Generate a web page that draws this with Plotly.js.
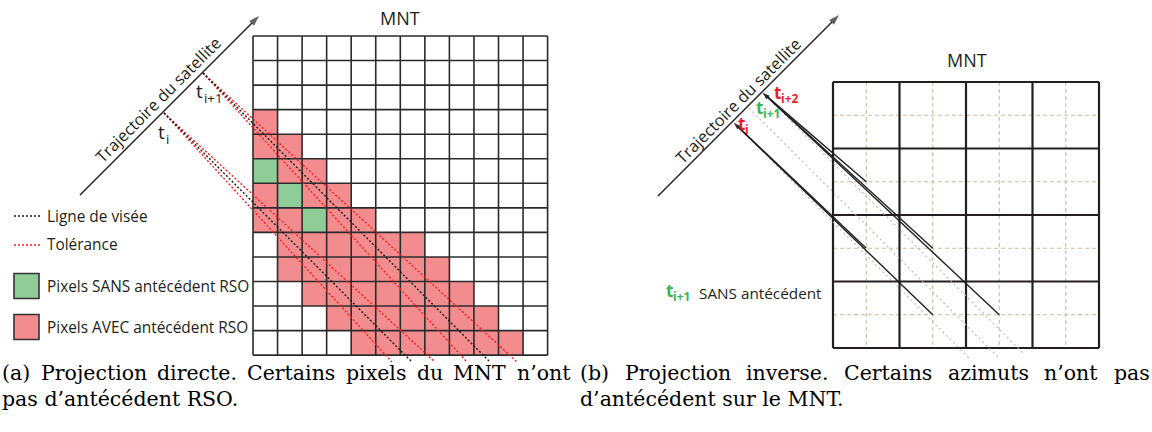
<!DOCTYPE html>
<html><head><meta charset="utf-8">
<script src="https://cdn.plot.ly/plotly-3.0.1.min.js"></script>
<style>html,body{margin:0;padding:0;background:#fff}#plot{width:1152px;height:432px}</style>
</head><body><div id="plot"></div>
<script>
// ---------------- data ----------------
// Left DEM grid: '.' = no projection, 'R' = pixel WITH SAR antecedent, 'G' = pixel WITHOUT
const leftCellRows = [
  "............",
  "............",
  "............",
  "R...........",
  "RR..........",
  "GRR.........",
  "RGRR........",
  "RRGRR.......",
  ".RRRRRR.....",
  ".RRRRRRR....",
  "..RRRRRRR...",
  "...RRRRRRR..",
  "....RRRRRRR."
];
const cellStateCodes = {".": 0, "R": 1, "G": 2};
// Right DEM grid: coarse cells (4x4), each split in 2x2 by dashed lines
const rightGridCells = 4;
// Right panel: DEM cells (col,row) projected back to each trajectory instant
const arrowsToTi2 = [[0, 1], [1, 2], [2, 3]];
const arrowsToTi = [[0, 2], [1, 3]];

// Labels
const legendLabels = ["Ligne de visée", "Tolérance", "Pixels SANS antécédent RSO", "Pixels AVEC antécédent RSO"];
const trajLabel = "Trajectoire du satellite";
const instantSubs = ["i", "i+1", "i+2"];
const noAntecedentLabel = "SANS antécédent";
const captionA = ["(a) Projection directe. Certains pixels du MNT n’ont", "pas d’antécédent RSO."];
const captionB = ["(b) Projection inverse. Certains azimuts n’ont pas", "d’antécédent sur le MNT."];

// ---------------- geometry (layout) ----------------
const LG = {x0: 253, y0: 36, cols: 12, rows: 13, size: 24.55};
const RG = {x0: 833, y0: 82, size: 66.5};
const trajL = {from: [80, 195], to: [259, 16]};
const trajR = {from: [658, 196], to: [839, 15]};
const ptTi = [164, 113], ptTi1 = [203, 73];
const endY = 362;
const sightEndsTi = {tolA: 392, axis: 412, tolB: 435};
const sightEndsTi1 = {tolA: 467, axis: 490, tolB: 517};
const rTi = [734, 123], rTi1 = [749, 108], rTi2 = [763, 93];
const grayEndY = [358, 357, 354];

const SANS = "Open Sans, Noto Sans, sans-serif";
const SERIF = "DejaVu Serif";
const INK = "#231f20";
const RED_FILL = "#f28c8e", GREEN_FILL = "#90cc98";
const RED_TXT = "#ed1c24", GREEN_TXT = "#39b54a";

// ---------------- build ----------------
const traces = [];
const z = leftCellRows.map(r => r.split("").map(c => cellStateCodes[c]));
const hx = [], hy = [];
for (let j = 0; j < LG.cols; j++) hx.push(LG.x0 + (j + 0.5) * LG.size);
for (let i = 0; i < LG.rows; i++) hy.push(LG.y0 + (i + 0.5) * LG.size);
traces.push({type: "heatmap", x: hx, y: hy, z: z, zmin: 0, zmax: 2, showscale: false, hoverinfo: "skip",
  colorscale: [[0, "#ffffff"], [0.5, RED_FILL], [1, GREEN_FILL]]});

function seg(p, q, xs, ys) { xs.push(p[0], q[0], null); ys.push(p[1], q[1], null); }

// left grid lines
(function () {
  const xs = [], ys = [];
  const W = LG.cols * LG.size, H = LG.rows * LG.size;
  for (let j = 0; j <= LG.cols; j++) { const x = LG.x0 + j * LG.size; seg([x, LG.y0], [x, LG.y0 + H], xs, ys); }
  for (let i = 0; i <= LG.rows; i++) { const y = LG.y0 + i * LG.size; seg([LG.x0, y], [LG.x0 + W, y], xs, ys); }
  traces.push({type: "scatter", mode: "lines", x: xs, y: ys, line: {color: "#2b2b2b", width: 1.6}, hoverinfo: "skip"});
})();

// left sight lines
(function () {
  const bx = [], by = [], rx = [], ry = [];
  [[ptTi, sightEndsTi], [ptTi1, sightEndsTi1]].forEach(([p, e]) => {
    seg(p, [e.axis, endY], bx, by);
    seg(p, [e.tolA, endY], rx, ry);
    seg(p, [e.tolB, endY], rx, ry);
  });
  traces.push({type: "scatter", mode: "lines", x: rx, y: ry, line: {color: "#ff1a1a", width: 1.4, dash: "2px,2px"}, hoverinfo: "skip"});
  traces.push({type: "scatter", mode: "lines", x: bx, y: by, line: {color: "#1a1a1a", width: 1.4, dash: "2px,2px"}, hoverinfo: "skip"});
})();

// right grid
(function () {
  const n = rightGridCells, S = RG.size, L = n * S;
  const dx = [], dy = [], cx = [], cy = [];
  for (let k = 0; k < n; k++) {
    const m = (k + 0.5) * S;
    seg([RG.x0 + m, RG.y0], [RG.x0 + m, RG.y0 + L], dx, dy);
    seg([RG.x0, RG.y0 + m], [RG.x0 + L, RG.y0 + m], dx, dy);
  }
  for (let k = 0; k <= n; k++) {
    seg([RG.x0 + k * S, RG.y0], [RG.x0 + k * S, RG.y0 + L], cx, cy);
    seg([RG.x0, RG.y0 + k * S], [RG.x0 + L, RG.y0 + k * S], cx, cy);
  }
  traces.push({type: "scatter", mode: "lines", x: dx, y: dy, line: {color: "#cbbca2", width: 1.1, dash: "4px,3px"}, hoverinfo: "skip"});
  traces.push({type: "scatter", mode: "lines", x: cx, y: cy, line: {color: INK, width: 2.2}, hoverinfo: "skip"});
})();

// right gray dashed sight lines (perpendicular to the trajectory) from t_i, t_i+1, t_i+2
(function () {
  const gx = [], gy = [];
  [rTi, rTi1, rTi2].forEach((p, k) => seg(p, [p[0] + (grayEndY[k] - p[1]), grayEndY[k]], gx, gy));
  traces.push({type: "scatter", mode: "lines", x: gx, y: gy, line: {color: "#b8b8b8", width: 1.1, dash: "2px,3px"}, hoverinfo: "skip"});
})();

// arrows: a line with an arrow marker at its tip
function arrow(tail, tip, w, size) {
  traces.push({type: "scatter", mode: "lines+markers", x: [tail[0], tip[0]], y: [tail[1], tip[1]], hoverinfo: "skip",
    line: {color: INK, width: w},
    marker: {symbol: ["circle", "arrow"], size: [0, size], angleref: "previous", color: INK, line: {width: 0}}});
}
arrow(trajL.from, trajL.to, 1.5, 11);
arrow(trajR.from, trajR.to, 1.5, 11);
function cellCentre(c) { return [RG.x0 + (c[0] + 0.5) * RG.size, RG.y0 + (c[1] + 0.5) * RG.size]; }
arrowsToTi2.forEach(c => arrow(cellCentre(c), rTi2, 1.4, 7));
arrowsToTi.forEach(c => arrow(cellCentre(c), rTi, 1.4, 7));

// legend glyphs
traces.push({type: "scatter", mode: "lines", x: [14, 41], y: [216, 216], line: {color: "#1a1a1a", width: 1.4, dash: "2px,2px"}, hoverinfo: "skip"});
traces.push({type: "scatter", mode: "lines", x: [14, 41], y: [245, 245], line: {color: "#ff1a1a", width: 1.4, dash: "2px,2px"}, hoverinfo: "skip"});
traces.push({type: "scatter", mode: "markers", x: [26.5, 26.5], y: [286, 327], hoverinfo: "skip",
  marker: {symbol: "square", size: 25, color: [GREEN_FILL, RED_FILL], line: {color: "#333", width: 1.6}}});

const ann = [];
function txt(t, x, y, o) {
  ann.push(Object.assign({x: x, y: y, xref: "x", yref: "y", text: t, showarrow: false,
    font: {family: SANS, size: 15.4, color: INK}, xanchor: "left", yanchor: "middle"}, o || {}));
  return ann.length - 1;
}
// "t" with a subscript, drawn as two texts
function tSub(x, y, sub, size, color, bold) {
  const w = bold ? "bold" : "normal";
  txt("t", x, y, {font: {family: SANS, size: size, color: color, weight: w}});
  txt(sub, x + size * 0.42, y + size * 0.38, {font: {family: SANS, size: size * 0.7, color: color, weight: w}});
}
// titles
txt("MNT", 400, 18, {xanchor: "center", font: {family: SANS, size: 18, color: INK}});
txt("MNT", 967, 60, {xanchor: "center", font: {family: SANS, size: 18, color: INK}});
// trajectory labels
txt(trajLabel, 158, 100, {xanchor: "center", textangle: -45, font: {family: SANS, size: 16.3, color: INK}});
txt(trajLabel, 738, 101, {xanchor: "center", textangle: -45, font: {family: SANS, size: 16.3, color: INK}});
// instants left
tSub(156, 132, instantSubs[0], 19, INK, false);
tSub(194, 91, instantSubs[1], 19, INK, false);
// instants right
tSub(736, 123, instantSubs[0], 17, RED_TXT, true);
tSub(754, 107, instantSubs[1], 17, GREEN_TXT, true);
tSub(772, 92, instantSubs[2], 17, RED_TXT, true);
tSub(664, 290, instantSubs[1], 17, GREEN_TXT, true);
txt(noAntecedentLabel, 697, 293, {font: {family: SANS, size: 15.3, color: INK}});
// legend
txt(legendLabels[0], 45, 216);
txt(legendLabels[1], 45, 244);
txt(legendLabels[2], 45, 286);
txt(legendLabels[3], 45, 327);

// captions: first lines are justified (word positions fixed after measuring the drawn words)
const capFont = {family: SERIF, size: 20.5, color: "#000"};
const justified = [];
function captionLine(line, x0, x1, y, justify) {
  if (!justify) { txt(line, x0, y, {font: capFont}); return; }
  const idx = line.split(" ").map(w => txt(w, x0, y, {font: capFont}));
  justified.push({idx: idx, x0: x0, x1: x1});
}
captionLine(captionA[0], 0, 569, 373, true);
captionLine(captionA[1], 0, 569, 399, false);
captionLine(captionB[0], 578, 1148, 373, true);
captionLine(captionB[1], 578, 1148, 399, false);

const layout = {
  width: 1152, height: 432, margin: {l: 0, r: 0, t: 0, b: 0},
  paper_bgcolor: "#fff", plot_bgcolor: "#fff", showlegend: false,
  xaxis: {range: [0, 1152], visible: false, fixedrange: true},
  yaxis: {range: [432, 0], visible: false, fixedrange: true},
  annotations: ann
};
const gd = document.getElementById("plot");
Plotly.newPlot(gd, traces, layout, {displayModeBar: false, staticPlot: true}).then(() => {
  const upd = {};
  justified.forEach(j => {
    const widths = j.idx.map(k => {
      const el = gd.querySelector('.annotation[data-index="' + k + '"] text');
      return el ? el.getBBox().width : 0;
    });
    const total = widths.reduce((a, b) => a + b, 0);
    const gap = (j.x1 - j.x0 - total) / (j.idx.length - 1);
    let x = j.x0;
    j.idx.forEach((k, n) => { upd["annotations[" + k + "].x"] = x; x += widths[n] + gap; });
  });
  return Plotly.relayout(gd, upd);
});
</script></body></html>
